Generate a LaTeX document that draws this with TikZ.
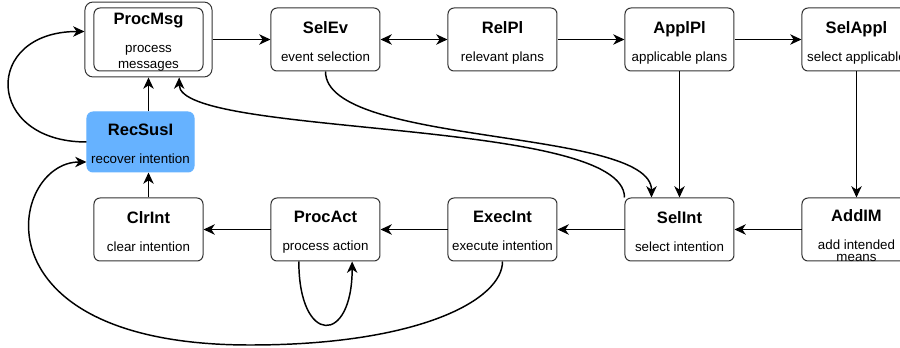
\documentclass[tikz,border=0pt]{standalone}
\usepackage{fontspec}
\setmainfont{Liberation Sans}
\usetikzlibrary{matrix,arrows.meta,fit}

\definecolor{recblue}{HTML}{66B2FF}
\newcommand{\stgtitle}{\fontsize{12.4}{14}\selectfont\bfseries}
\newcommand{\stg}[2]{\begin{tabular}{@{}c@{}}{\stgtitle #1}\\[9pt]#2\end{tabular}}

\tikzset{
  stage/.style={draw=black!80, line width=0.75pt, rounded corners=4.5pt,
    minimum width=81.75pt, minimum height=47.25pt, inner sep=0pt,
    text height=29.1pt, text depth=18.1pt, font=\fontsize{10}{12}\selectfont},
  recsus/.style={stage, fill=recblue, draw=recblue, minimum width=80.25pt,
    minimum height=45pt, text height=28.3pt, text depth=16.7pt, xshift=-6pt}
}

\begin{document}
\begin{tikzpicture}[x=0.75pt,y=-0.75pt,>={Stealth[length=8.5pt,width=7.8pt,inset=2.6pt]},line width=1.1pt]
	\useasboundingbox (0,0) rectangle (900,348);
	\clip (0,0) rectangle (900,348);
	\matrix(m)[matrix of nodes, nodes={stage}, row sep=18.75pt, column sep=50.25pt,
	  matrix anchor=m-1-1.center] at (148.5,39.5)
	{ \stg{ProcMsg}{process\\messages} & \stg{SelEv}{event selection} & \stg{RelPl}{relevant plans} & \stg{ApplPl}{applicable plans} & \stg{SelAppl}{select applicable} \\[11.25pt]
	  |[recsus]| \stg{RecSusI}{recover intention} \\
	  \stg{ClrInt}{clear intention} & \stg{ProcAct}{process action} & \stg{ExecInt}{execute intention} & \stg{SelInt}{select intention} & \stg{\rule{0pt}{14.9pt}AddIM}{add intended\\[-3pt]means} \\};
	\node[draw=black!80, line width=0.75pt, rounded corners=6pt, fit=(m-1-1),
	  inner xsep=6.4pt, inner ysep=4.1pt] (pm) {};
	\path[->]
	(pm) edge (m-1-2)
	(m-1-2) edge[<->] (m-1-3)
	(m-1-3) edge (m-1-4)
	(m-1-4) edge (m-1-5)
	(m-1-4) edge (m-3-4)
	(m-1-5) edge (m-3-5)
	(m-3-5) edge (m-3-4)
	(m-3-4) edge (m-3-3)
	(m-3-3) edge (m-3-2)
	(m-3-2) edge (m-3-1)
	(m-3-1.north) edge (m-3-1.north |- m-2-1.south)
	(pm.south |- m-2-1.north) edge (pm.south);
	% loops back to the message step
	\draw[->] (m-2-1.west) .. controls +(-102,0) and +(-102,0) .. ([yshift=6pt]pm.west);
	\draw[->] (m-1-2.south) .. controls +(0,75) and +(0,-70) .. ([xshift=-21pt]m-3-4.north);
	\draw[->] (m-3-4.north west) .. controls +(0,-80) and +(0,60) .. ([xshift=23pt]pm.south);
	\draw[->] (m-3-3.south) .. controls +(0,38) and +(170,0) .. (250,345)
	  .. controls +(-280,0) and +(-77,0) .. ([yshift=-15pt]m-2-1.west);
	\draw[->] ([xshift=-20pt]m-3-2.south) .. controls +(0,84) and +(0,84) .. ([xshift=20pt]m-3-2.south);
\end{tikzpicture}
\end{document}
